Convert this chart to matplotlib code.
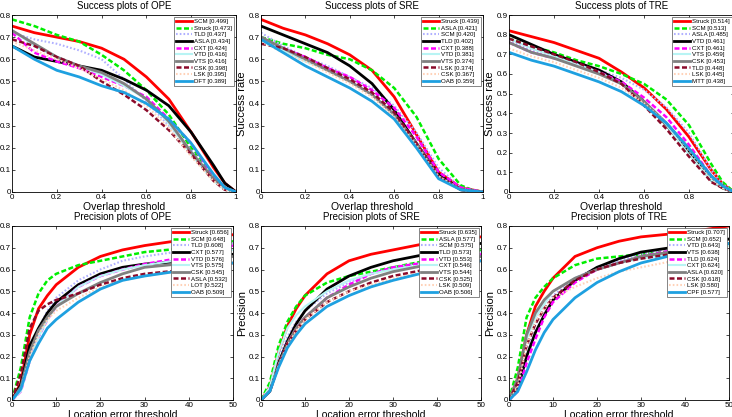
import matplotlib
matplotlib.use('Agg')
import matplotlib.pyplot as plt
from matplotlib.ticker import FuncFormatter

# x grids the curves were read at
succ_x = [0, 0.1, 0.2, 0.3, 0.4, 0.5, 0.6, 0.7, 0.8, 0.9, 0.95, 1.0]
prec_x = [0, 2, 4, 6, 8, 10, 15, 20, 25, 30, 40, 50]

# Success plots of OPE
ope_succ_names = ['SCM [0.499]', 'Struck [0.473]', 'TLD [0.437]', 'ASLA [0.434]', 'CXT [0.424]',
                  'VTD [0.416]', 'VTS [0.416]', 'CSK [0.398]', 'LSK [0.395]', 'DFT [0.389]']
ope_succ_vals = [
    [0.75, 0.72, 0.70, 0.68, 0.65, 0.60, 0.52, 0.42, 0.27, 0.11, 0.04, 0],
    [0.78, 0.75, 0.71, 0.68, 0.62, 0.55, 0.46, 0.35, 0.20, 0.07, 0.02, 0],
    [0.72, 0.69, 0.67, 0.64, 0.60, 0.51, 0.41, 0.30, 0.19, 0.06, 0.02, 0],
    [0.66, 0.61, 0.59, 0.57, 0.55, 0.51, 0.46, 0.39, 0.27, 0.12, 0.04, 0],
    [0.72, 0.63, 0.59, 0.56, 0.52, 0.48, 0.43, 0.33, 0.22, 0.07, 0.02, 0],
    [0.73, 0.66, 0.61, 0.57, 0.53, 0.48, 0.42, 0.31, 0.17, 0.05, 0.01, 0],
    [0.73, 0.67, 0.61, 0.57, 0.54, 0.49, 0.42, 0.32, 0.18, 0.06, 0.02, 0],
    [0.69, 0.66, 0.61, 0.57, 0.50, 0.44, 0.37, 0.28, 0.17, 0.05, 0.01, 0],
    [0.68, 0.64, 0.60, 0.56, 0.51, 0.46, 0.39, 0.29, 0.16, 0.05, 0.01, 0],
    [0.66, 0.60, 0.55, 0.52, 0.48, 0.45, 0.40, 0.33, 0.22, 0.08, 0.02, 0],
]

# Success plots of SRE
sre_succ_names = ['Struck [0.439]', 'ASLA [0.421]', 'SCM [0.420]', 'TLD [0.402]', 'CXT [0.388]',
                  'VTD [0.381]', 'VTS [0.374]', 'LSK [0.374]', 'CSK [0.367]', 'OAB [0.359]']
sre_succ_vals = [
    [0.78, 0.74, 0.71, 0.67, 0.62, 0.55, 0.43, 0.26, 0.09, 0.02, 0.01, 0],
    [0.70, 0.67, 0.65, 0.62, 0.60, 0.55, 0.47, 0.34, 0.15, 0.03, 0.01, 0],
    [0.72, 0.66, 0.61, 0.57, 0.52, 0.47, 0.39, 0.27, 0.11, 0.02, 0.01, 0],
    [0.75, 0.71, 0.67, 0.63, 0.57, 0.49, 0.37, 0.22, 0.08, 0.01, 0.005, 0],
    [0.70, 0.65, 0.61, 0.56, 0.52, 0.46, 0.38, 0.25, 0.09, 0.02, 0.01, 0],
    [0.70, 0.64, 0.59, 0.55, 0.50, 0.44, 0.35, 0.22, 0.07, 0.01, 0.005, 0],
    [0.70, 0.65, 0.60, 0.55, 0.50, 0.44, 0.35, 0.22, 0.07, 0.01, 0.005, 0],
    [0.67, 0.65, 0.61, 0.56, 0.51, 0.45, 0.36, 0.22, 0.07, 0.01, 0.005, 0],
    [0.68, 0.63, 0.59, 0.54, 0.49, 0.43, 0.34, 0.21, 0.07, 0.01, 0.005, 0],
    [0.69, 0.63, 0.57, 0.52, 0.47, 0.41, 0.33, 0.20, 0.06, 0.01, 0.005, 0],
]

# Success plots of TRE
tre_succ_names = ['Struck [0.514]', 'SCM [0.513]', 'ASLA [0.485]', 'VTD [0.461]', 'CXT [0.461]',
                  'VTS [0.459]', 'CSK [0.453]', 'TLD [0.448]', 'LSK [0.445]', 'MTT [0.438]']
tre_succ_vals = [
    [0.82, 0.79, 0.76, 0.72, 0.68, 0.61, 0.53, 0.42, 0.28, 0.11, 0.04, 0],
    [0.78, 0.74, 0.71, 0.67, 0.64, 0.60, 0.55, 0.47, 0.34, 0.14, 0.05, 0],
    [0.77, 0.72, 0.69, 0.65, 0.62, 0.58, 0.52, 0.43, 0.30, 0.11, 0.04, 0],
    [0.80, 0.75, 0.70, 0.66, 0.62, 0.56, 0.46, 0.34, 0.20, 0.06, 0.02, 0],
    [0.76, 0.71, 0.68, 0.65, 0.61, 0.56, 0.48, 0.38, 0.24, 0.08, 0.03, 0],
    [0.78, 0.73, 0.69, 0.65, 0.61, 0.55, 0.46, 0.34, 0.19, 0.06, 0.02, 0],
    [0.76, 0.71, 0.68, 0.64, 0.60, 0.55, 0.46, 0.35, 0.22, 0.08, 0.03, 0],
    [0.78, 0.74, 0.70, 0.66, 0.61, 0.55, 0.44, 0.32, 0.18, 0.05, 0.02, 0],
    [0.73, 0.69, 0.66, 0.62, 0.58, 0.53, 0.45, 0.35, 0.21, 0.07, 0.02, 0],
    [0.71, 0.67, 0.64, 0.60, 0.56, 0.51, 0.44, 0.35, 0.22, 0.08, 0.03, 0],
]

# Precision plots of OPE
ope_prec_names = ['Struck [0.656]', 'SCM [0.648]', 'TLD [0.608]', 'CXT [0.577]', 'VTD [0.576]',
                  'VTS [0.575]', 'CSK [0.545]', 'ASLA [0.532]', 'LOT [0.522]', 'OAB [0.509]']
ope_prec_vals = [
    [0, 0.08, 0.30, 0.42, 0.48, 0.53, 0.61, 0.66, 0.69, 0.71, 0.74, 0.76],
    [0, 0.15, 0.38, 0.49, 0.55, 0.58, 0.62, 0.64, 0.66, 0.68, 0.70, 0.73],
    [0, 0.05, 0.22, 0.33, 0.41, 0.47, 0.55, 0.60, 0.64, 0.66, 0.69, 0.72],
    [0, 0.07, 0.25, 0.33, 0.40, 0.45, 0.53, 0.58, 0.61, 0.625, 0.64, 0.67],
    [0, 0.04, 0.18, 0.29, 0.37, 0.43, 0.52, 0.57, 0.60, 0.625, 0.66, 0.71],
    [0, 0.04, 0.18, 0.29, 0.37, 0.43, 0.52, 0.57, 0.60, 0.62, 0.65, 0.69],
    [0, 0.06, 0.22, 0.32, 0.38, 0.43, 0.49, 0.54, 0.58, 0.61, 0.63, 0.66],
    [0, 0.12, 0.33, 0.41, 0.44, 0.46, 0.49, 0.53, 0.56, 0.58, 0.60, 0.63],
    [0, 0.05, 0.20, 0.30, 0.37, 0.41, 0.47, 0.52, 0.55, 0.57, 0.60, 0.63],
    [0, 0.05, 0.18, 0.26, 0.33, 0.37, 0.45, 0.51, 0.55, 0.57, 0.60, 0.63],
]

# Precision plots of SRE
sre_prec_names = ['Struck [0.635]', 'ASLA [0.577]', 'SCM [0.575]', 'TLD [0.573]', 'VTD [0.553]',
                  'CXT [0.546]', 'VTS [0.544]', 'CSK [0.525]', 'LSK [0.509]', 'OAB [0.506]']
sre_prec_vals = [
    [0, 0.06, 0.22, 0.34, 0.42, 0.48, 0.58, 0.64, 0.67, 0.69, 0.73, 0.75],
    [0, 0.08, 0.25, 0.36, 0.43, 0.48, 0.54, 0.57, 0.59, 0.61, 0.65, 0.69],
    [0, 0.05, 0.20, 0.29, 0.36, 0.41, 0.49, 0.54, 0.58, 0.61, 0.64, 0.68],
    [0, 0.04, 0.17, 0.27, 0.35, 0.41, 0.51, 0.57, 0.61, 0.64, 0.68, 0.72],
    [0, 0.04, 0.16, 0.26, 0.33, 0.38, 0.47, 0.53, 0.58, 0.61, 0.64, 0.67],
    [0, 0.06, 0.22, 0.33, 0.39, 0.43, 0.50, 0.55, 0.58, 0.60, 0.63, 0.66],
    [0, 0.04, 0.16, 0.26, 0.33, 0.38, 0.47, 0.52, 0.56, 0.59, 0.63, 0.66],
    [0, 0.04, 0.16, 0.26, 0.32, 0.37, 0.45, 0.50, 0.54, 0.57, 0.61, 0.64],
    [0, 0.04, 0.16, 0.25, 0.32, 0.37, 0.45, 0.50, 0.53, 0.56, 0.60, 0.63],
    [0, 0.04, 0.15, 0.24, 0.30, 0.35, 0.43, 0.48, 0.52, 0.55, 0.60, 0.64],
]

# Precision plots of TRE
tre_prec_names = ['Struck [0.707]', 'SCM [0.652]', 'VTD [0.643]', 'VTS [0.638]', 'TLD [0.624]',
                  'CXT [0.624]', 'ASLA [0.620]', 'CSK [0.618]', 'LSK [0.580]', 'CPF [0.577]']
tre_prec_vals = [
    [0, 0.10, 0.30, 0.43, 0.50, 0.56, 0.66, 0.70, 0.73, 0.75, 0.77, 0.80],
    [0, 0.15, 0.38, 0.47, 0.52, 0.56, 0.62, 0.65, 0.66, 0.67, 0.69, 0.71],
    [0, 0.06, 0.23, 0.35, 0.42, 0.48, 0.56, 0.61, 0.64, 0.67, 0.71, 0.74],
    [0, 0.05, 0.20, 0.31, 0.39, 0.46, 0.55, 0.61, 0.65, 0.68, 0.71, 0.74],
    [0, 0.04, 0.17, 0.28, 0.38, 0.45, 0.54, 0.60, 0.63, 0.66, 0.70, 0.72],
    [0, 0.10, 0.28, 0.38, 0.44, 0.50, 0.56, 0.60, 0.63, 0.65, 0.68, 0.71],
    [0, 0.10, 0.30, 0.40, 0.46, 0.50, 0.56, 0.60, 0.63, 0.66, 0.69, 0.72],
    [0, 0.08, 0.25, 0.35, 0.42, 0.47, 0.55, 0.60, 0.63, 0.65, 0.68, 0.70],
    [0, 0.06, 0.25, 0.36, 0.42, 0.47, 0.52, 0.56, 0.59, 0.61, 0.65, 0.69],
    [0, 0.04, 0.13, 0.23, 0.31, 0.37, 0.47, 0.54, 0.59, 0.63, 0.68, 0.72],
]

# style by rank (same in every panel)
rank_colors = ['#ff0000', '#00ee00', '#b0b0ff', '#000000', '#ff00ff',
               '#b8f4f4', '#808080', '#8b0a2a', '#ffd2b8', '#1ea0e0']
dash = (0, (2.0, 1.0))
dot = (0, (0.8, 1.0))
rank_styles = ['-', dash, dot, '-', dash, '-', '-', dash, dot, '-']
rank_widths = [2.0, 1.8, 1.5, 2.0, 1.8, 1.5, 2.0, 1.8, 1.5, 2.0]

plt.rcParams['font.family'] = ['Arial', 'Liberation Sans', 'DejaVu Sans']

fig = plt.figure(figsize=(7.32, 4.17), dpi=100)
W, H = 732.0, 417.0


def make_axes(l, r, t, b):
    return fig.add_axes([l / W, 1 - b / H, (r - l) / W, (b - t) / H])


panels = [
    (make_axes(12, 236, 15, 192), succ_x, ope_succ_vals, ope_succ_names, 'Success plots of OPE', 'success'),
    (make_axes(261, 483, 15, 192), succ_x, sre_succ_vals, sre_succ_names, 'Success plots of SRE', 'success'),
    (make_axes(509, 734, 15, 192), succ_x, tre_succ_vals, tre_succ_names, 'Success plots of TRE', 'success'),
    (make_axes(12, 233, 226, 400), prec_x, ope_prec_vals, ope_prec_names, 'Precision plots of OPE', 'prec'),
    (make_axes(261, 481, 226, 400), prec_x, sre_prec_vals, sre_prec_names, 'Precision plots of SRE', 'prec'),
    (make_axes(509, 729, 226, 400), prec_x, tre_prec_vals, tre_prec_names, 'Precision plots of TRE', 'prec'),
]

fmt = FuncFormatter(lambda v, p: '%g' % round(v, 2))

for i, (ax, xs, vals, names, title, kind) in enumerate(panels):
    for k in range(len(vals)):
        ax.plot(xs, vals[k], color=rank_colors[k], linestyle=rank_styles[k],
                linewidth=rank_widths[k], label=names[k])
    if kind == 'success':
        ax.set_xlim(0, 1)
        ymax = 0.9 if i == 2 else 0.8
        ax.set_ylim(0, ymax)
        # the TRE panel runs off the right edge, its "1" is not in the picture
        if i == 2:
            ax.set_xticks([0, 0.2, 0.4, 0.6, 0.8])
        else:
            ax.set_xticks([0, 0.2, 0.4, 0.6, 0.8, 1.0])
        ax.set_yticks([j / 10 for j in range(int(round(ymax * 10)) + 1)])
        ax.set_xlabel('Overlap threshold', fontsize=7.5, labelpad=1)
        ylab = 'Success rate'
    else:
        ax.set_xlim(0, 50)
        ax.set_ylim(0, 0.8)
        ax.set_xticks([0, 10, 20, 30, 40, 50])
        ax.set_yticks([j / 10 for j in range(9)])
        ax.set_xlabel('Location error threshold', fontsize=7.5, labelpad=1)
        ylab = 'Precision'
    # the left column's y labels fall outside the cropped picture
    if i not in (0, 3):
        ax.set_ylabel(ylab, fontsize=8, labelpad=1)
    ax.xaxis.set_major_formatter(fmt)
    ax.yaxis.set_major_formatter(fmt)
    ax.tick_params(direction='in', length=2, width=0.5, labelsize=5.8, pad=1.5,
                   top=True, right=True)
    ax.tick_params(axis='y', pad=0.8)
    for s in ax.spines.values():
        s.set_linewidth(0.6)
    ax.set_title(title, fontsize=7, pad=4)
    leg = ax.legend(loc='upper right', fontsize=4.4, handlelength=2.6,
                    handletextpad=0.4, labelspacing=0.22, borderpad=0.35,
                    fancybox=False, framealpha=1, edgecolor='#555555',
                    borderaxespad=0.3)
    leg.get_frame().set_linewidth(0.5)

fig.savefig('out.png', dpi=100)
